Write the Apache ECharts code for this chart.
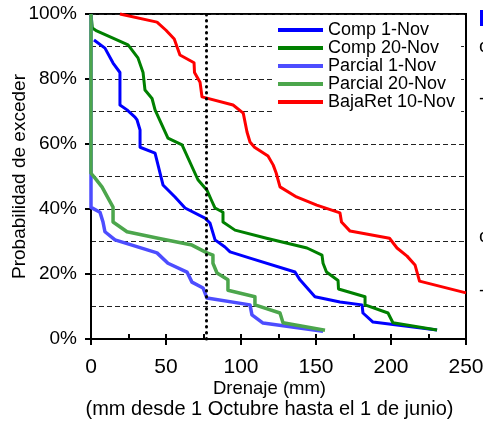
<!DOCTYPE html>
<html>
<head>
<meta charset="utf-8">
<script src="https://cdn.jsdelivr.net/npm/echarts@6/dist/echarts.min.js"></script>
<style>
  html, body { margin: 0; padding: 0; background: #fff; }
  #chart { width: 483px; height: 422px; }
</style>
</head>
<body>
<div id="chart"></div>
<script>
// drenaje (mm) vs probabilidad de exceder (%)
const seriesNames = ['Comp 1-Nov', 'Comp 20-Nov', 'Parcial 1-Nov', 'Parcial 20-Nov', 'BajaRet 10-Nov'];
const seriesColors = ['#0000ff', '#008000', '#4d4dff', '#4ca64c', '#ff0000'];
const xTicks = [0, 50, 100, 150, 200, 250];
const yTicks = [0, 20, 40, 60, 80, 100];
const refLineX = 77;

const comp1Nov = [
  [2, 92], [2.7, 91.8], [9.3, 89.5], [14.7, 84.9], [19.3, 82], [19.3, 72], [24, 70.5],
  [29.3, 68.3], [30.7, 67.4], [32.7, 64.3], [32.7, 59], [42.7, 57.2], [48, 47.4], [56, 43.7],
  [62.7, 40.3], [76, 37.2], [79.3, 35.7], [82.7, 30.5], [89.3, 28.3], [92.7, 26.8], [106, 24.9],
  [136, 20.6], [139.3, 18.2], [149.3, 13], [166, 11.4], [180.7, 10.5], [181.3, 8], [188, 5.2],
  [230.7, 2.8]
];
const comp20Nov = [
  [0, 100], [0.9, 95.7], [3.8, 94.8], [24.7, 90.5], [31.3, 86.5], [34.7, 82], [36, 76.6],
  [40.7, 74], [42.7, 70.5], [51.3, 61.8], [60.7, 59.7], [71.3, 49], [77.3, 45.8], [80, 43],
  [82.7, 40.3], [88, 39], [88, 36], [96, 33.5], [117, 31], [144, 28], [154, 25.8], [154.7, 23.3],
  [157, 20.6], [164.7, 18], [165, 15.4], [182.7, 13], [182.7, 10.5], [198, 8], [201.3, 5],
  [230.7, 2.8]
];
const parcial1Nov = [
  [0, 100], [0, 40.5], [0.7, 40.3], [6, 39], [8, 36], [9.3, 33], [16, 30.5], [44, 26.5],
  [51.3, 23.3], [64, 20.6], [67.3, 17.5], [74.7, 15.7], [77.3, 12.6], [106, 10.5], [107.3, 7.4],
  [114.7, 4.9], [154.7, 2.4]
];
const parcial20Nov = [
  [0, 100], [0, 51], [2.7, 49.5], [7.3, 46.8], [11.3, 43.4], [14.7, 40.6], [14.7, 36], [16, 35.5],
  [24, 33], [44.7, 31], [67.3, 28.9], [77.3, 26.5], [81.3, 25.8], [81.3, 23.3], [84, 20.3],
  [91.3, 18.2], [91.3, 15], [109.3, 13], [109.3, 10.5], [126, 8], [128, 5], [156, 2.7]
];
const bajaRet10Nov = [
  [19.3, 100], [44, 97.5], [50, 95], [55.5, 92.3], [59.3, 87.4], [68.7, 85], [69, 82], [72.7, 79],
  [74, 74.5], [94.7, 72], [101.5, 69.5], [104, 63.7], [106, 60.6], [109, 59], [118, 56.3],
  [121.5, 53.5], [123.5, 51], [126, 46.8], [137, 43.7], [150.5, 41.2], [166, 38.8], [167, 36],
  [172.7, 33.2], [199, 31], [204, 28], [210.7, 25.5], [216, 22.8], [219, 17.8], [250, 14.2]
];
const seriesData = [comp1Nov, comp20Nov, parcial1Nov, parcial20Nov, bajaRet10Nov];
const lineWidths = [3, 3, 3.5, 3.5, 3];

const font = 'Liberation Sans, Arial, sans-serif';
const myChart = echarts.init(document.getElementById('chart'));

const series = seriesNames.map((name, i) => ({
  name,
  type: 'line',
  data: seriesData[i],
  xAxisIndex: 0,
  showSymbol: false,
  symbol: 'none',
  clip: false,
  lineStyle: { color: seriesColors[i], width: lineWidths[i], join: 'round' },
  itemStyle: { color: seriesColors[i] }
}));
// dotted vertical reference line
series[0].markLine = {
  silent: true,
  symbol: 'none',
  label: { show: false },
  lineStyle: { color: '#000', width: 3, type: [0.5, 5.5], cap: 'round' },
  data: [{ xAxis: refLineX }]
};

const option = {
  animation: false,
  textStyle: { fontFamily: font, color: '#000' },
  grid: {
    left: 91, right: 17, top: 14, bottom: 83,
    outerBoundsMode: 'none',
    containLabel: false,
    show: true, borderColor: '#000', borderWidth: 2, backgroundColor: '#fff'
  },
  legend: {
    data: seriesNames,
    orient: 'vertical',
    left: 272,
    top: 18,
    padding: [3, 6, 3, 6],
    backgroundColor: '#fff',
    icon: 'rect',
    itemWidth: 45,
    itemHeight: 4,
    itemGap: 0,
    textStyle: { fontSize: 18, lineHeight: 17.4, color: '#000', fontFamily: font }
  },
  xAxis: [
    {
      type: 'value',
      min: xTicks[0],
      max: xTicks[xTicks.length - 1],
      interval: xTicks[1] - xTicks[0],
      axisLine: { show: true, onZero: false, lineStyle: { color: '#000', width: 2 } },
      axisTick: { show: true, length: 6, lineStyle: { color: '#000', width: 2 } },
      axisLabel: { fontSize: 21, color: '#000', margin: 18, fontFamily: font },
      splitLine: { show: false },
      name: '{a|Drenaje (mm)}\n{b|(mm desde 1 Octubre hasta el 1 de junio)}',
      nameLocation: 'middle',
      nameGap: 39,
      nameMoveOverlap: false,
      nameTextStyle: {
        padding: [0, 18, 0, 0],
        rich: {
          a: { fontSize: 18.5, lineHeight: 21, color: '#000', fontFamily: font },
          b: { fontSize: 20, lineHeight: 21, color: '#000', fontFamily: font }
        }
      }
    },
    {
      type: 'value',
      position: 'bottom',
      min: xTicks[0],
      max: xTicks[xTicks.length - 1],
      interval: xTicks[1] - xTicks[0],
      axisLine: { show: false },
      axisLabel: { show: false },
      axisTick: { show: true, inside: true, length: 5, lineStyle: { color: '#000', width: 2 } },
      minorTick: { show: true, splitNumber: 2, length: 5, lineStyle: { color: '#000', width: 2 } },
      splitLine: { show: false }
    }
  ],
  yAxis: {
    type: 'value',
    min: yTicks[0],
    max: yTicks[yTicks.length - 1],
    interval: yTicks[1] - yTicks[0],
    axisLine: { show: true, lineStyle: { color: '#000', width: 2 } },
    axisTick: { show: true, length: 6, lineStyle: { color: '#000', width: 2 } },
    axisLabel: { fontSize: 19, color: '#000', margin: 14, formatter: '{value}%', fontFamily: font },
    splitLine: { show: true, lineStyle: { color: '#222', width: 1, type: [5, 3] } },
    minorTick: { show: false, splitNumber: 2 },
    minorSplitLine: { show: true, lineStyle: { color: '#222', width: 1, type: [5, 3] } },
    name: 'Probabilidad de exceder',
    nameLocation: 'middle',
    nameGap: 62,
    nameMoveOverlap: false,
    nameTextStyle: { fontSize: 19, color: '#000', fontFamily: font }
  },
  // cut-off bits of the neighbouring figure on the right edge
  graphic: [
    { type: 'rect', left: 480, top: 10, shape: { width: 10, height: 16 }, style: { fill: '#0000ff' } },
    { type: 'text', x: 479, y: 47, style: { text: 'c', font: '19px ' + font, fill: '#000', verticalAlign: 'middle' } },
    { type: 'text', x: 479, y: 99, style: { text: '-', font: '19px ' + font, fill: '#000', verticalAlign: 'middle' } },
    { type: 'text', x: 479, y: 237, style: { text: 'c', font: '19px ' + font, fill: '#000', verticalAlign: 'middle' } },
    { type: 'text', x: 479, y: 291, style: { text: '-', font: '19px ' + font, fill: '#000', verticalAlign: 'middle' } }
  ],
  series
};
myChart.setOption(option);
</script>
</body>
</html>
